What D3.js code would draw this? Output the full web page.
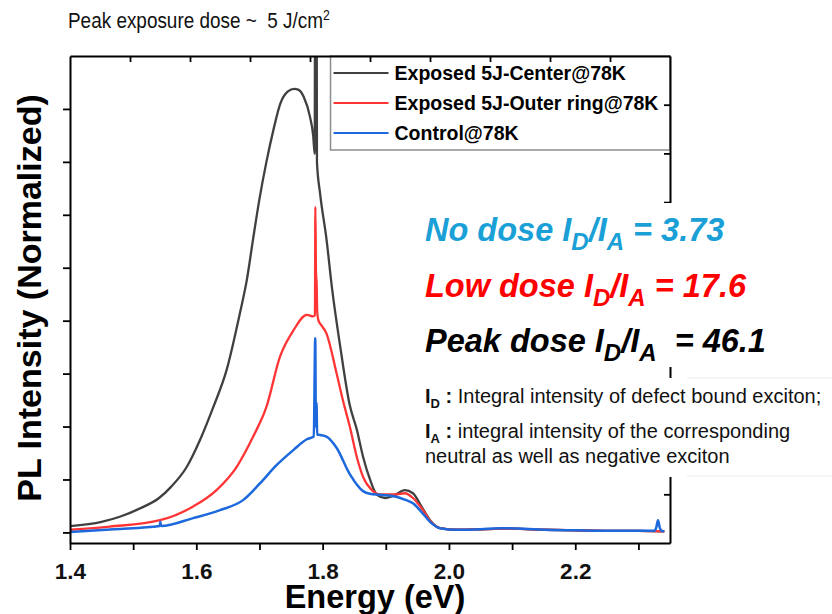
<!DOCTYPE html>
<html>
<head>
<meta charset="utf-8">
<script src="https://cdn.jsdelivr.net/npm/d3@7"></script>
<style>
  body { margin: 0; background: #fff; }
  svg { display: block; font-family: "Liberation Sans", Arial, sans-serif; }
</style>
</head>
<body>
<div id="wrapper"></div>
<script>
// data: energy (eV) and normalized PL intensity (tick units)
const centerEnergy = [1.40, 1.45, 1.48, 1.51, 1.54, 1.56, 1.585, 1.606, 1.627, 1.648, 1.669, 1.68, 1.69, 1.70, 1.711, 1.722, 1.733, 1.745, 1.755, 1.762, 1.77, 1.78, 1.785, 1.7875, 1.788, 1.7905, 1.791, 1.796, 1.806, 1.815, 1.828, 1.843, 1.854, 1.864, 1.875, 1.886, 1.899, 1.915, 1.930, 1.943, 1.957, 1.970, 1.986, 2.012, 2.05, 2.10, 2.15, 2.20, 2.25, 2.30, 2.341]
const centerIntensity = [0.12, 0.20, 0.30, 0.45, 0.64, 0.86, 1.24, 1.75, 2.37, 3.07, 4.14, 4.77, 5.55, 6.30, 7.00, 7.60, 8.10, 8.33, 8.38, 8.36, 8.23, 7.85, 7.50, 7.15, 10.5, 10.5, 7.00, 6.40, 5.55, 4.60, 3.50, 2.40, 1.95, 1.43, 1.00, 0.71, 0.65, 0.71, 0.80, 0.74, 0.48, 0.23, 0.08, 0.05, 0.06, 0.07, 0.05, 0.04, 0.03, 0.03, 0.02]

const outerEnergy = [1.40, 1.463, 1.5425, 1.595, 1.632, 1.664, 1.69, 1.711, 1.7325, 1.754, 1.775, 1.785, 1.7878, 1.7885, 1.7895, 1.7905, 1.7915, 1.7935, 1.797, 1.806, 1.822, 1.832, 1.843, 1.854, 1.864, 1.878, 1.891, 1.915, 1.930, 1.943, 1.957, 1.970, 1.986, 2.012, 2.05, 2.10, 2.15, 2.20, 2.25, 2.30, 2.341]
const outerIntensity = [0.05, 0.11, 0.23, 0.49, 0.80, 1.24, 1.81, 2.37, 3.32, 3.82, 4.11, 4.08, 4.10, 6.15, 4.90, 4.70, 4.15, 4.00, 3.93, 3.76, 3.01, 2.50, 2.00, 1.43, 1.05, 0.80, 0.72, 0.72, 0.74, 0.65, 0.45, 0.22, 0.08, 0.05, 0.06, 0.07, 0.05, 0.04, 0.03, 0.03, 0.02]

const controlEnergy = [1.40, 1.47, 1.542, 1.543, 1.544, 1.595, 1.6375, 1.674, 1.701, 1.727, 1.754, 1.775, 1.786, 1.7883, 1.7893, 1.7903, 1.7913, 1.796, 1.806, 1.822, 1.843, 1.864, 1.875, 1.891, 1.918, 1.930, 1.943, 1.957, 1.970, 1.986, 2.012, 2.05, 2.08, 2.12, 2.15, 2.20, 2.25, 2.30, 2.325, 2.328, 2.331, 2.334, 2.337, 2.341]
const controlIntensity = [0.01, 0.06, 0.12, 0.20, 0.12, 0.27, 0.42, 0.61, 0.93, 1.27, 1.56, 1.76, 1.81, 3.67, 2.00, 2.45, 1.85, 1.84, 1.81, 1.60, 1.10, 0.78, 0.73, 0.71, 0.67, 0.62, 0.55, 0.38, 0.20, 0.08, 0.05, 0.06, 0.08, 0.07, 0.05, 0.04, 0.03, 0.03, 0.03, 0.08, 0.23, 0.08, 0.03, 0.02]

const seriesNames = ["Exposed 5J-Center@78K", "Exposed 5J-Outer ring@78K", "Control@78K"]
const seriesColors = ["#404040", "#ff3535", "#1c68dc"]

const xTickValues = [1.4, 1.5, 1.6, 1.7, 1.8, 1.9, 2.0, 2.1, 2.2, 2.3]
const yTickValues = [0, 1, 2, 3, 4, 5, 6, 7, 8]
const mirrorTickValues = [1, 2, 3, 4, 5, 6, 7, 8, 9]

const ratioLines = [
  { label: "No dose ", value: " = 3.73", color: "#1a9fd6" },
  { label: "Low dose ", value: " = 17.6", color: "#ff0000" },
  { label: "Peak dose ", value: "  = 46.1", color: "#000000" },
]

const drawChart = () => {
  const width = 832
  const height = 614
  const margin = { top: 56, right: 162, bottom: 71, left: 70 }
  const boundedWidth = width - margin.left - margin.right
  const boundedHeight = height - margin.top - margin.bottom

  const svg = d3.select("#wrapper").append("svg")
    .attr("width", width)
    .attr("height", height)

  const bounds = svg.append("g")
    .attr("transform", `translate(${margin.left},${margin.top})`)

  // scales
  const xScale = d3.scaleLinear().domain([1.4, 2.35]).range([0, boundedWidth])
  const yScale = d3.scaleLinear().domain([-0.2, 9.0]).range([boundedHeight, 0])
  // mirror axes on top / right just split the frame in ten
  const topScale = d3.scaleLinear().domain([0, 10]).range([0, boundedWidth])
  const rightScale = d3.scaleLinear().domain([0, 10]).range([boundedHeight, 0])

  bounds.append("clipPath").attr("id", "plot-clip")
    .append("rect").attr("width", boundedWidth).attr("height", boundedHeight)

  const lineGen = d3.line()
    .x(d => xScale(d[0]))
    .y(d => yScale(d[1]))
    .curve(d3.curveMonotoneX)

  const series = [
    d3.zip(centerEnergy, centerIntensity),
    d3.zip(outerEnergy, outerIntensity),
    d3.zip(controlEnergy, controlIntensity),
  ]

  bounds.append("g").attr("clip-path", "url(#plot-clip)")
    .selectAll("path")
    .data(series)
    .join("path")
    .attr("d", lineGen)
    .attr("fill", "none")
    .attr("stroke", (d, i) => seriesColors[i])
    .attr("stroke-width", (d, i) => i == 2 ? 2.5 : 2.3)
    .attr("stroke-linejoin", "round")

  // legend
  const legendX = xScale(1.8125)
  const legend = bounds.append("g").attr("transform", `translate(${legendX},0)`)
  legend.append("rect")
    .attr("x", 0).attr("y", 0)
    .attr("width", boundedWidth - legendX).attr("height", 94)
    .attr("fill", "#fff").attr("stroke", "#8c8c8c").attr("stroke-width", 1.5)
  const rows = legend.selectAll(".row").data(seriesNames).join("g")
    .attr("class", "row")
    .attr("transform", (d, i) => `translate(0,${17 + i * 30})`)
  rows.append("line")
    .attr("x1", 3).attr("x2", 58)
    .attr("stroke", (d, i) => seriesColors[i]).attr("stroke-width", 2.2)
  rows.append("text")
    .attr("x", 64).attr("y", 7)
    .style("font-size", "19.5px").style("font-weight", "bold")
    .text(d => d)

  // axes
  const xAxis = bounds.append("g")
    .attr("transform", `translate(0,${boundedHeight})`)
    .call(d3.axisBottom(xScale).tickValues(xTickValues).tickSize(7).tickSizeOuter(0).tickPadding(13)
      .tickFormat(d => Math.round(d * 10) % 2 == 0 ? d3.format(".1f")(d) : ""))
  const yAxis = bounds.append("g")
    .call(d3.axisLeft(yScale).tickValues(yTickValues).tickSize(7).tickSizeOuter(0).tickFormat(""))
  const topAxis = bounds.append("g")
    .call(d3.axisTop(topScale).tickValues(mirrorTickValues).tickSize(-6).tickSizeOuter(0).tickFormat(""))
  const rightAxis = bounds.append("g")
    .attr("transform", `translate(${boundedWidth},0)`)
    .call(d3.axisRight(rightScale).tickValues(mirrorTickValues).tickSize(-6).tickSizeOuter(0).tickFormat(""))

  ;[xAxis, yAxis, topAxis, rightAxis].forEach(a => {
    a.select(".domain").attr("stroke", "#000").attr("stroke-width", 2)
    a.selectAll(".tick line").attr("stroke", "#000").attr("stroke-width", 1.8)
  })
  xAxis.selectAll("text")
    .attr("fill", "#111")
    .style("font-size", "22.5px").style("font-weight", "bold")

  // white text boxes sitting over the right frame
  svg.append("rect").attr("x", 415).attr("y", 203).attr("width", 417).attr("height", 164).attr("fill", "#fff")
  svg.append("rect").attr("x", 415).attr("y", 378).attr("width", 417).attr("height", 99).attr("fill", "#fff")
  svg.append("line").attr("x1", 687).attr("x2", 832).attr("y1", 378).attr("y2", 378).attr("stroke", "#ececec")
  svg.append("line").attr("x1", 687).attr("x2", 832).attr("y1", 476).attr("y2", 476).attr("stroke", "#ececec")

  // title (a little condensed in the original)
  const title = svg.append("text")
    .attr("transform", "translate(68,28) scale(0.88,1)")
    .style("font-size", "21.5px").attr("fill", "#111")
    .attr("xml:space", "preserve")
  title.append("tspan").text("Peak exposure dose ~  5 J/cm")
  title.append("tspan").attr("dy", -8).style("font-size", "14px").text("2")

  // axis labels
  svg.append("text")
    .attr("x", margin.left + boundedWidth / 2 + 5).attr("y", 608)
    .attr("text-anchor", "middle")
    .style("font-size", "32.5px").style("font-weight", "bold")
    .text("Energy (eV)")
  svg.append("text")
    .attr("transform", "translate(41,298) rotate(-90)")
    .attr("text-anchor", "middle")
    .style("font-size", "34px").style("font-weight", "bold")
    .text("PL Intensity (Normalized)")

  // ratio annotations
  ratioLines.forEach((r, i) => {
    const t = svg.append("text")
      .attr("x", 425).attr("y", 241 + i * 55.5)
      .attr("fill", r.color)
      .attr("xml:space", "preserve")
      .style("font-size", "32.5px").style("font-weight", "bold").style("font-style", "italic")
    t.append("tspan").text(r.label + "I")
    t.append("tspan").attr("dy", 9).style("font-size", "24px").text("D")
    t.append("tspan").attr("dy", -9).text("/I")
    t.append("tspan").attr("dy", 9).style("font-size", "24px").text("A")
    t.append("tspan").attr("dy", -9).text(r.value)
  })

  // definitions
  const defs = [
    { sub: "D", lines: [" Integral intensity of defect bound exciton;"] },
    { sub: "A", lines: [" integral intensity of the corresponding", "neutral as well as negative exciton"] },
  ]
  const defY = [403, 438]
  defs.forEach((d, i) => {
    const t = svg.append("text")
      .attr("x", 425).attr("y", defY[i])
      .attr("fill", "#111")
      .attr("xml:space", "preserve")
      .style("font-size", "20px")
    t.append("tspan").style("font-weight", "bold").text("I")
    t.append("tspan").attr("dy", 5).style("font-weight", "bold").style("font-size", "13px").text(d.sub)
    t.append("tspan").attr("dy", -5).style("font-weight", "bold").text(" :")
    t.append("tspan").text(d.lines[0])
    if (d.lines[1]) {
      svg.append("text")
        .attr("x", 425).attr("y", defY[i] + 25)
        .attr("fill", "#111")
        .style("font-size", "20px")
        .text(d.lines[1])
    }
  })
}

drawChart()
</script>
</body>
</html>
